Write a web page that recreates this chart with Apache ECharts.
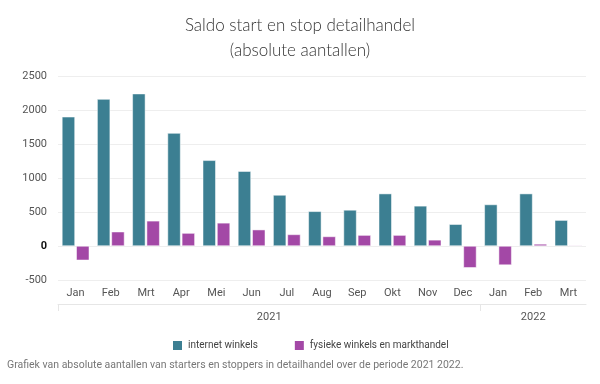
<!DOCTYPE html>
<html>
<head>
<meta charset="utf-8">
<script src="https://cdn.jsdelivr.net/npm/echarts@6/dist/echarts.min.js"></script>
<style>
html,body{margin:0;padding:0;background:#fff;}
#chart{width:600px;height:384px;}
</style>
</head>
<body>
<div id="chart"></div>
<script>
var months = ['Jan','Feb','Mrt','Apr','Mei','Jun','Jul','Aug','Sep','Okt','Nov','Dec','Jan','Feb','Mrt'];
var internetWinkels = [1900, 2160, 2240, 1660, 1260, 1100, 750, 510, 530, 770, 590, 320, 610, 770, 380];
var fysiekeWinkels = [-210, 210, 370, 190, 340, 240, 170, 140, 160, 160, 90, -320, -280, 30, 10];
var years = ['2021', '2022'];
var yearSpans = [12, 3];
var yTicks = { min: -500, max: 2500, interval: 500 };

// Build a half-month resolution axis for the year grouping
var halfSlots = [];
var tickIdx = {};
var labelIdx = {};
var pos = 0;
for (var i = 0; i < years.length; i++) {
  tickIdx[pos * 2] = true;
  labelIdx[pos * 2 + yearSpans[i]] = years[i];
  pos += yearSpans[i];
}
for (var k = 0; k <= pos * 2; k++) {
  halfSlots.push(labelIdx[k] || '');
}

var chart = echarts.init(document.getElementById('chart'));
chart.setOption({
  animation: false,
  backgroundColor: '#fff',
  title: {
    text: 'Saldo start en stop detailhandel\n(absolute aantallen)',
    left: 'center',
    top: 8,
    textStyle: { fontFamily: 'Lato', fontWeight: 300, fontSize: 17, color: '#333', lineHeight: 25 }
  },
  legend: {
    top: 334,
    left: 166,
    itemWidth: 11,
    itemHeight: 11,
    itemGap: 35,
    icon: 'rect',
    textStyle: { fontFamily: 'Roboto', fontSize: 10, color: '#444' },
    data: ['internet winkels', 'fysieke winkels en markthandel']
  },
  grid: { left: 58, right: 14, top: 76, bottom: 104 },
  xAxis: [
    {
      type: 'category',
      data: months,
      position: 'bottom',
      axisLine: { show: false, onZero: false },
      axisTick: { show: false },
      axisLabel: { fontFamily: 'Roboto', fontSize: 11, color: '#555', margin: 8 }
    },
    {
      type: 'category',
      data: halfSlots,
      boundaryGap: false,
      position: 'bottom',
      offset: 24,
      axisLine: { show: true, onZero: false, lineStyle: { color: '#e6e6e6', width: 1 } },
      axisTick: { show: true, length: 7, lineStyle: { color: '#e6e6e6' }, interval: function (idx) { return !!tickIdx[idx]; } },
      axisLabel: { fontFamily: 'Roboto', fontSize: 11, color: '#555', margin: 8, interval: function (idx, v) { return v !== ''; } }
    }
  ],
  yAxis: {
    type: 'value',
    min: yTicks.min,
    max: yTicks.max,
    interval: yTicks.interval,
    axisLine: { show: false },
    axisTick: { show: false },
    splitLine: { lineStyle: { color: '#eeeeee' } },
    axisLabel: {
      fontFamily: 'Roboto', fontSize: 11, color: '#555', margin: 11,
      formatter: function (v) { return v === 0 ? '{z|0}' : String(v); },
      rich: { z: { fontFamily: 'Roboto', fontSize: 11, color: '#111', fontWeight: 'bold' } }
    }
  },
  series: [
    {
      name: 'internet winkels',
      type: 'bar',
      data: internetWinkels,
      barWidth: 13,
      barGap: '10%',
      itemStyle: { color: '#3c7f92', borderColor: '#ffffff', borderWidth: 0.5 }
    },
    {
      name: 'fysieke winkels en markthandel',
      type: 'bar',
      data: fysiekeWinkels,
      barWidth: 13,
      barGap: '10%',
      itemStyle: { color: '#a348a6', borderColor: '#ffffff', borderWidth: 0.5 }
    }
  ],
  graphic: [
    {
      type: 'text',
      left: 7,
      top: 360,
      style: {
        text: 'Grafiek van absolute aantallen van starters en stoppers in detailhandel over de periode 2021 2022.',
        fontFamily: 'Roboto',
        fontSize: 10.5,
        fill: '#777'
      }
    }
  ]
});
</script>
</body>
</html>
